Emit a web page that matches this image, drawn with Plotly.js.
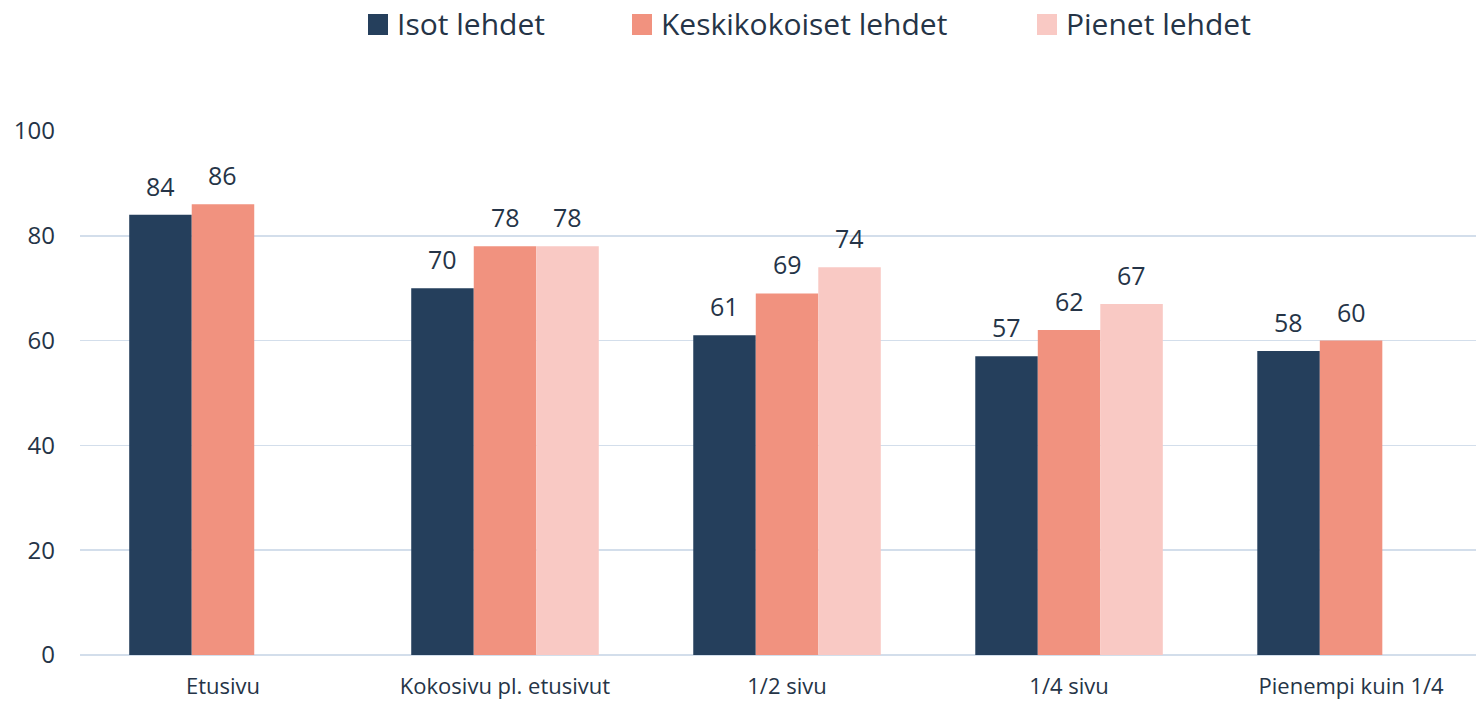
<!DOCTYPE html>
<html>
<head>
<meta charset="utf-8">
<script src="https://cdn.plot.ly/plotly-3.0.1.min.js"></script>
<style>html,body{margin:0;padding:0;background:#fff;}#chart{width:1476px;height:701px;}</style>
</head>
<body>
<div id="chart"></div>
<script>
const categories = ["Etusivu", "Kokosivu pl. etusivut", "1/2 sivu", "1/4 sivu", "Pienempi kuin 1/4"];
const seriesNames = ["Isot lehdet", "Keskikokoiset lehdet", "Pienet lehdet"];
const isot = [84, 70, 61, 57, 58];
const keskikokoiset = [86, 78, 69, 62, 60];
const pienet = [null, 78, 74, 67, null];
const yTicks = [0, 20, 40, 60, 80, 100];

const colors = ["#253F5C", "#F1927F", "#F9C9C4"];
const textColor = "#253447";
const font = "'Open Sans', Lato, sans-serif";
const bargap = 0.335;
const allSeries = [isot, keskikokoiset, pienet];

// plot area in pixels (for legend placement helpers)
const L = 80, R = 1476, T = 131, B = 655;
const px = v => (v - L) / (R - L);
const py = v => (B - v) / (B - T);

const traces = allSeries.map((vals, j) => ({
  type: "bar",
  name: seriesNames[j],
  x: categories,
  y: vals,
  marker: {color: colors[j], line: {width: 0}},
  hoverinfo: "y+name",
  showlegend: false
}));

const bw = (1 - bargap) / 3;
const annotations = [];
allSeries.forEach((vals, j) => {
  vals.forEach((v, i) => {
    if (v === null) return;
    annotations.push({
      x: i + (j - 1) * bw, y: v, xref: "x", yref: "y",
      text: String(v), showarrow: false, yanchor: "middle", yshift: 29,
      font: {family: font, size: 25, color: textColor}
    });
  });
});

// custom legend
const legendX = [368, 632, 1037];
const shapes = [];
seriesNames.forEach((n, j) => {
  shapes.push({
    type: "rect", xref: "paper", yref: "paper",
    x0: px(legendX[j]), x1: px(legendX[j] + 20), y0: py(35), y1: py(14),
    fillcolor: colors[j], line: {width: 0}
  });
  annotations.push({
    xref: "paper", yref: "paper", x: px(legendX[j] + 27), y: py(23),
    xanchor: "left", yanchor: "middle", showarrow: false, text: n,
    font: {family: font, size: 30, color: textColor}
  });
});

const layout = {
  width: 1476, height: 701,
  margin: {l: L, r: 1476 - R, t: T, b: 701 - B},
  paper_bgcolor: "#fff", plot_bgcolor: "#fff",
  barmode: "group", bargap: bargap, bargroupgap: 0,
  font: {family: font, color: textColor},
  showlegend: false,
  xaxis: {
    type: "category", range: [-0.507, 4.443],
    showgrid: false, zeroline: false, showline: false,
    ticks: "", ticklabelstandoff: 16,
    tickfont: {family: font, size: 22, color: textColor}
  },
  yaxis: {
    range: [0, 100], tickvals: yTicks, ticktext: yTicks.map(String),
    showgrid: true, gridcolor: "#D3DEEB", gridwidth: 1.5,
    zeroline: true, zerolinecolor: "#D3DEEB", zerolinewidth: 2,
    showline: false, ticks: "", ticklabelstandoff: 24,
    tickfont: {family: font, size: 24, color: textColor}
  },
  shapes: shapes,
  annotations: annotations
};

Plotly.newPlot("chart", traces, layout, {displayModeBar: false, staticPlot: true});
</script>
</body>
</html>
